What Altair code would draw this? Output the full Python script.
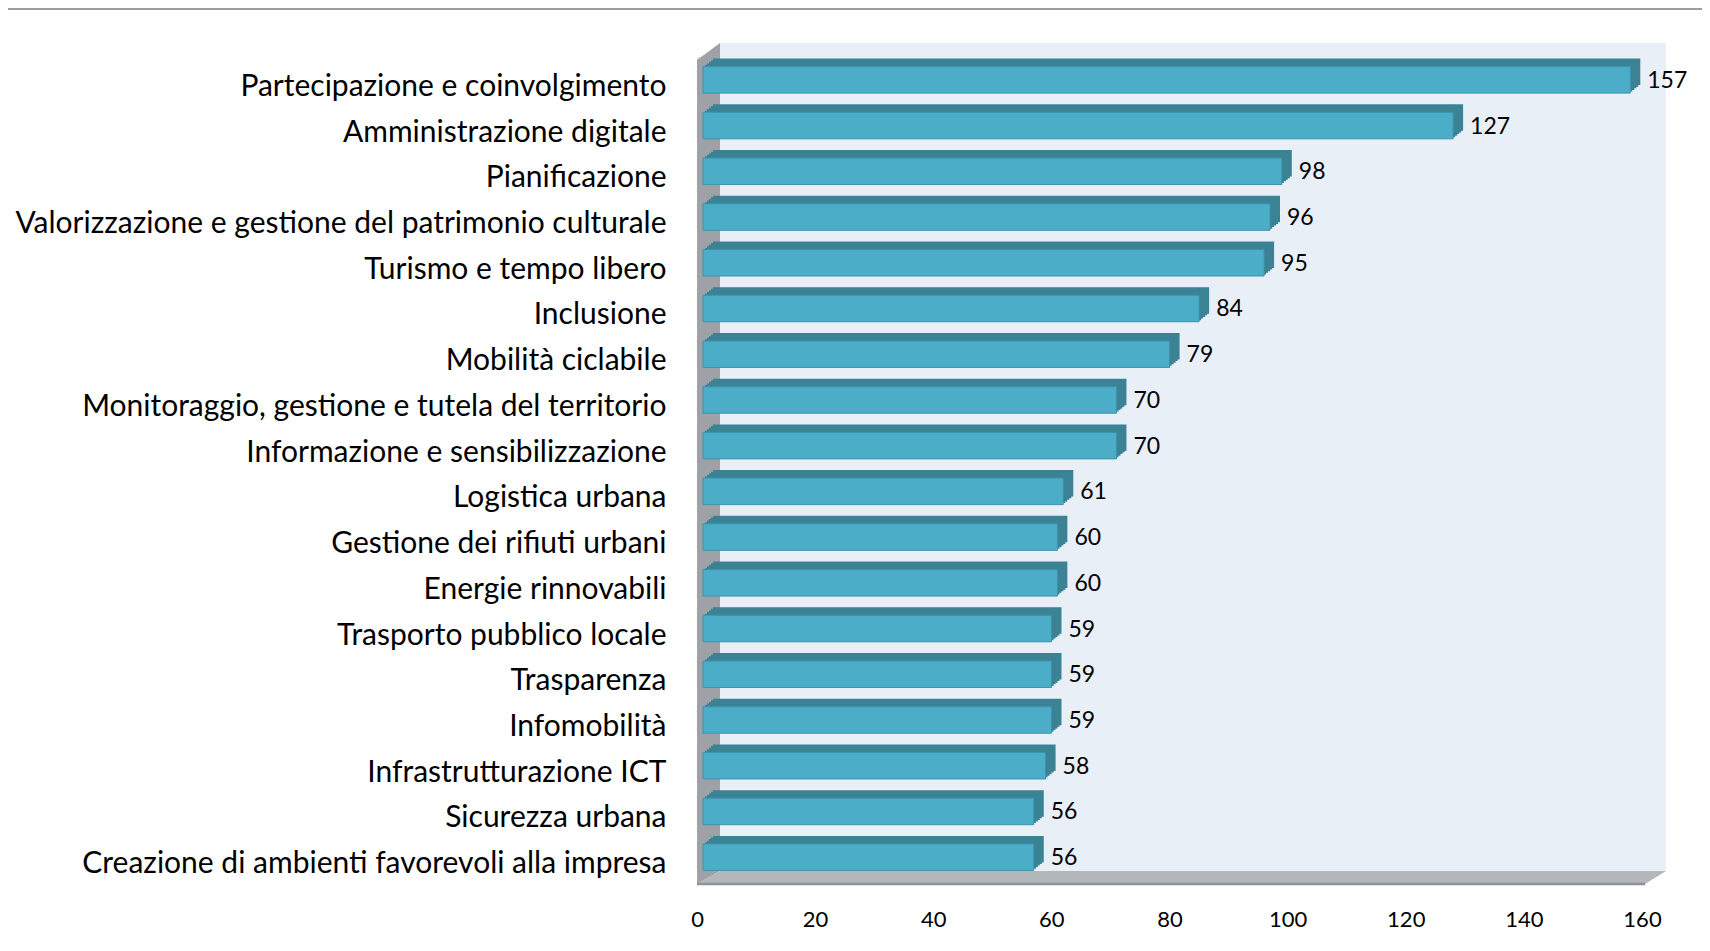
import altair as alt
import pandas as pd

categories = [
    "Partecipazione e coinvolgimento",
    "Amministrazione digitale",
    "Pianificazione",
    "Valorizzazione e gestione del patrimonio culturale",
    "Turismo e tempo libero",
    "Inclusione",
    "Mobilità ciclabile",
    "Monitoraggio, gestione e tutela del territorio",
    "Informazione e sensibilizzazione",
    "Logistica urbana",
    "Gestione dei rifiuti urbani",
    "Energie rinnovabili",
    "Trasporto pubblico locale",
    "Trasparenza",
    "Infomobilità",
    "Infrastrutturazione ICT",
    "Sicurezza urbana",
    "Creazione di ambienti favorevoli alla impresa",
]
values = [157, 127, 98, 96, 95, 84, 79, 70, 70, 61, 60, 60, 59, 59, 59, 58, 56, 56]
tick_values = [0, 20, 40, 60, 80, 100, 120, 140, 160]

df = pd.DataFrame({"categoria": categories, "valore": values})

W = 945
H = 823
FONT = "Lato"

xscale = alt.Scale(domain=[0, 160], nice=False, zero=True)
yscale = alt.Scale(domain=categories, paddingInner=0.42, paddingOuter=0.21)

one = pd.DataFrame({"a": [0]})

top_line = alt.Chart(one).mark_rule(color="#9C9C9C", strokeWidth=2).encode(
    x=alt.value(-689), x2=alt.value(W + 60), y=alt.value(-48)
)

back_wall = alt.Chart(one).mark_rect(color="#E9EFF7").encode(
    x=alt.value(23), x2=alt.value(969), y=alt.value(-14), y2=alt.value(814)
)

left_wall = alt.Chart(
    pd.DataFrame({"px": [0, 23], "top": [3, -14], "bot": [827, 814]})
).mark_area(color="#9EA1A5", orient="vertical").encode(
    x=alt.X("px:Q", scale=None, axis=None),
    y=alt.Y("top:Q", scale=None, axis=None),
    y2="bot:Q",
)

floor = alt.Chart(
    pd.DataFrame({"py": [814, 827], "xl": [23, 0], "xr": [969, 948]})
).mark_area(color="#B3B6BA", orient="horizontal").encode(
    y=alt.Y("py:Q", scale=None, axis=None),
    x=alt.X("xl:Q", scale=None, axis=None),
    x2="xr:Q",
)

floor_edge = alt.Chart(one).mark_rule(color="#8E9195", strokeWidth=2.5).encode(
    x=alt.value(0), x2=alt.value(948), y=alt.value(827)
)

base = alt.Chart(df)

dark_layers = []
for k in range(1, 6):
    dx = 6 + 2 * k
    dy = -1.6 * k
    dark_layers.append(
        base.mark_bar(
            color="#3A8294", xOffset=dx, x2Offset=dx, yOffset=dy, y2Offset=dy
        ).encode(
            x=alt.X("valore:Q", scale=xscale, axis=None),
            x2=alt.datum(0),
            y=alt.Y("categoria:N", scale=yscale, sort=categories, axis=None),
        )
    )

front = base.mark_bar(
    color="#4BADC8", stroke="#3D93AB", strokeWidth=1, xOffset=6, x2Offset=6
).encode(
    x=alt.X(
        "valore:Q",
        scale=xscale,
        axis=alt.Axis(
            values=tick_values,
            title=None,
            domain=False,
            ticks=False,
            grid=False,
            labelFlush=False,
            labelPadding=29,
            labelFontSize=22,
            labelFont=FONT,
            labelColor="black",
        ),
    ),
    x2=alt.datum(0),
    y=alt.Y(
        "categoria:N",
        scale=yscale,
        sort=categories,
        axis=alt.Axis(
            title=None,
            domain=False,
            ticks=False,
            labelPadding=31,
            labelOffset=7,
            labelFontSize=30,
            labelFont=FONT,
            labelColor="black",
            labelLimit=1000,
        ),
    ),
)

labels = base.mark_text(
    align="left", baseline="middle", dx=23, dy=1, fontSize=23, font=FONT, color="black"
).encode(
    x=alt.X("valore:Q", scale=xscale, axis=None),
    y=alt.Y("categoria:N", scale=yscale, sort=categories, axis=None),
    text="valore:Q",
)

chart = alt.layer(
    top_line, back_wall, left_wall, floor, floor_edge, *dark_layers, front, labels
).resolve_scale(
    x="independent", y="independent"
).properties(
    width=W,
    height=H,
    padding={"left": 689, "top": 49, "right": 60, "bottom": 55},
    autosize=alt.AutoSizeParams(type="none"),
).configure_view(stroke=None).configure(background="white")

chart.save("out.html", embed_options={"renderer": "svg", "actions": False})
